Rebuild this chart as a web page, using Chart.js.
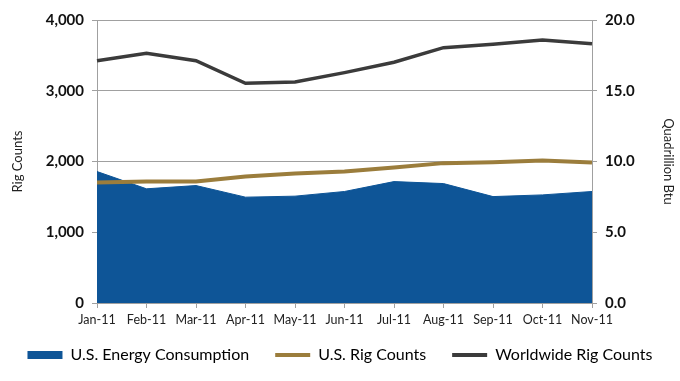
<!DOCTYPE html>
<html>
<head>
<meta charset="utf-8">
<script src="https://cdn.jsdelivr.net/npm/chart.js@4"></script>
<style>
  html, body { margin: 0; padding: 0; background: #fff; }
  #wrap { width: 680px; height: 381px; }
</style>
</head>
<body>
<div id="wrap"><canvas id="c"></canvas></div>
<script>
// data
var months = ['Jan-11', 'Feb-11', 'Mar-11', 'Apr-11', 'May-11', 'Jun-11',
              'Jul-11', 'Aug-11', 'Sep-11', 'Oct-11', 'Nov-11'];
var energyUse = [9.29, 8.07, 8.30, 7.48, 7.55, 7.88, 8.58, 8.44, 7.52, 7.64, 7.88];
var usRigs = [1703, 1717, 1717, 1788, 1830, 1858, 1915, 1977, 1991, 2013, 1985];
var worldRigs = [3425, 3530, 3425, 3106, 3125, 3256, 3403, 3609, 3657, 3718, 3666];

var blue = '#0E5597';
var gold = '#9B7D3C';
var dark = '#3B3B3B';
var axisGrey = '#A0A0A0';
var font = 'Lato, "DejaVu Sans", sans-serif';

var ctx = document.getElementById('c');
var myChart = new Chart(ctx,
{
  data:
  {
    labels: months,
    datasets:
    [{
      type: 'line',
      label: 'U.S. Energy Consumption',
      data: energyUse,
      yAxisID: 'y1',
      borderColor: blue,
      backgroundColor: blue,
      borderWidth: 1,
      fill: 'origin',
      pointRadius: 0,
      tension: 0,
      order: 3
    },
    {
      type: 'line',
      label: 'U.S. Rig Counts',
      data: usRigs,
      yAxisID: 'y',
      borderColor: gold,
      backgroundColor: gold,
      borderWidth: 4,
      fill: false,
      pointRadius: 0,
      tension: 0,
      order: 2
    },
    {
      type: 'line',
      label: 'Worldwide Rig Counts',
      data: worldRigs,
      yAxisID: 'y',
      borderColor: dark,
      backgroundColor: dark,
      borderWidth: 3.5,
      fill: false,
      pointRadius: 0,
      tension: 0,
      order: 1
    }]
  },
  options:
  {
    responsive: true,
    maintainAspectRatio: false,
    animation: false,
    layout: { padding: { top: 20, left: 0, right: 0, bottom: 8 } },
    plugins:
    {
      tooltip: { enabled: false },
      legend:
      {
        position: 'bottom',
        labels:
        {
          color: '#111',
          font: { family: font, size: 16 },
          usePointStyle: true,
          pointStyleWidth: 35,
          boxHeight: 8,
          padding: 26,
          generateLabels: function (chart) {
            return chart.data.datasets.map(function (ds, i) {
              return {
                text: ds.label,
                fillStyle: ds.backgroundColor,
                strokeStyle: ds.borderColor,
                lineWidth: i === 0 ? 0 : 4,
                pointStyle: i === 0 ? 'rect' : 'line',
                hidden: false,
                datasetIndex: i
              };
            });
          }
        }
      }
    },
    scales:
    {
      x:
      {
        offset: false,
        grid: { display: true, drawOnChartArea: false, drawTicks: true, tickLength: 5, color: axisGrey },
        border: { color: axisGrey },
        ticks: { color: '#222', font: { family: font, size: 12.5 }, maxRotation: 0, autoSkip: false, padding: 4 },
        afterFit: function (s) {
          s.height = 18;
          // month labels hang below the short axis box, so don't clip them to it
          s._computeLabelArea = function () { return undefined; };
        }
      },
      y:
      {
        position: 'left',
        min: 0, max: 4000,
        ticks:
        {
          stepSize: 1000,
          color: '#111',
          font: { family: font, size: 15, weight: 'bold' },
          padding: 8,
          callback: function (v) { return v.toLocaleString('en-US'); }
        },
        grid: { color: axisGrey, tickLength: 5 },
        border: { color: axisGrey },
        title: { display: true, text: 'Rig Counts', color: '#222', font: { family: font, size: 13 }, padding: { top: 10, bottom: 0 } },
        afterFit: function (s) { s.width = 97; }
      },
      y1:
      {
        position: 'right',
        min: 0, max: 20,
        ticks:
        {
          stepSize: 5,
          color: '#111',
          font: { family: font, size: 15, weight: 'bold' },
          padding: 8,
          callback: function (v) { return v.toFixed(1); }
        },
        grid: { drawOnChartArea: false, color: axisGrey, tickLength: 5 },
        border: { color: axisGrey },
        title: { display: true, text: 'Quadrillion Btu', color: '#222', font: { family: font, size: 13 }, padding: { top: 4, bottom: 0 } },
        afterFit: function (s) { s.width = 88; }
      }
    }
  }
});
</script>
</body>
</html>
